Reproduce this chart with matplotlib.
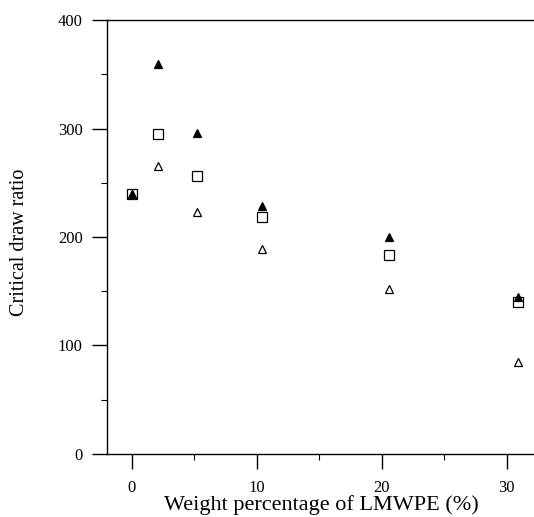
import matplotlib
matplotlib.use("Agg")
import matplotlib.pyplot as plt
from matplotlib.ticker import MultipleLocator

plt.rcParams['font.family'] = ['Liberation Serif', 'DejaVu Serif']

# Data
x_pct = [0.0, 2.1, 5.2, 10.4, 20.6, 30.9]
filled_tri = [240, 359, 296, 229, 200, 145]
open_square = [240, 295, 256, 218, 183, 140]
open_tri = [240, 265, 223, 189, 152, 85]

xticks = [0, 10, 20, 30]
yticks = [0, 100, 200, 300, 400]

fig = plt.figure(figsize=(5.34, 5.17), dpi=100)
ax = fig.add_axes([0.2004, 0.1219, 0.7996, 0.8394])

ax.plot(x_pct, open_square, linestyle='none', marker='s', markersize=7,
        markerfacecolor='white', markeredgecolor='black', markeredgewidth=0.9)
ax.plot(x_pct, open_tri, linestyle='none', marker='^', markersize=6,
        markerfacecolor='white', markeredgecolor='black', markeredgewidth=0.9)
ax.plot(x_pct, filled_tri, linestyle='none', marker='^', markersize=6,
        markerfacecolor='black', markeredgecolor='black', markeredgewidth=0.9)

ax.set_xlim(-2.0, 32.2)
ax.set_ylim(0, 400)
ax.set_xticks(xticks)
ax.set_yticks(yticks)
ax.xaxis.set_minor_locator(MultipleLocator(5))
ax.yaxis.set_minor_locator(MultipleLocator(50))

ax.spines['right'].set_visible(False)
for s in ['left', 'top', 'bottom']:
    ax.spines[s].set_linewidth(1.0)

ax.tick_params(axis='both', which='major', direction='out', length=10.5, width=1.0,
               labelsize=12)
ax.tick_params(axis='y', which='major', pad=7)
ax.tick_params(axis='x', which='major', pad=8)
ax.tick_params(axis='both', which='minor', direction='out', length=4, width=0.8)

ax.set_ylabel('Critical draw ratio', fontsize=14.5)
ax.yaxis.set_label_coords(-0.183, 0.488)
ax.set_xlabel('Weight percentage of LMWPE (%)', fontsize=16)
ax.xaxis.set_label_coords(0.501, -0.094)

fig.savefig('out.png', dpi=100)
